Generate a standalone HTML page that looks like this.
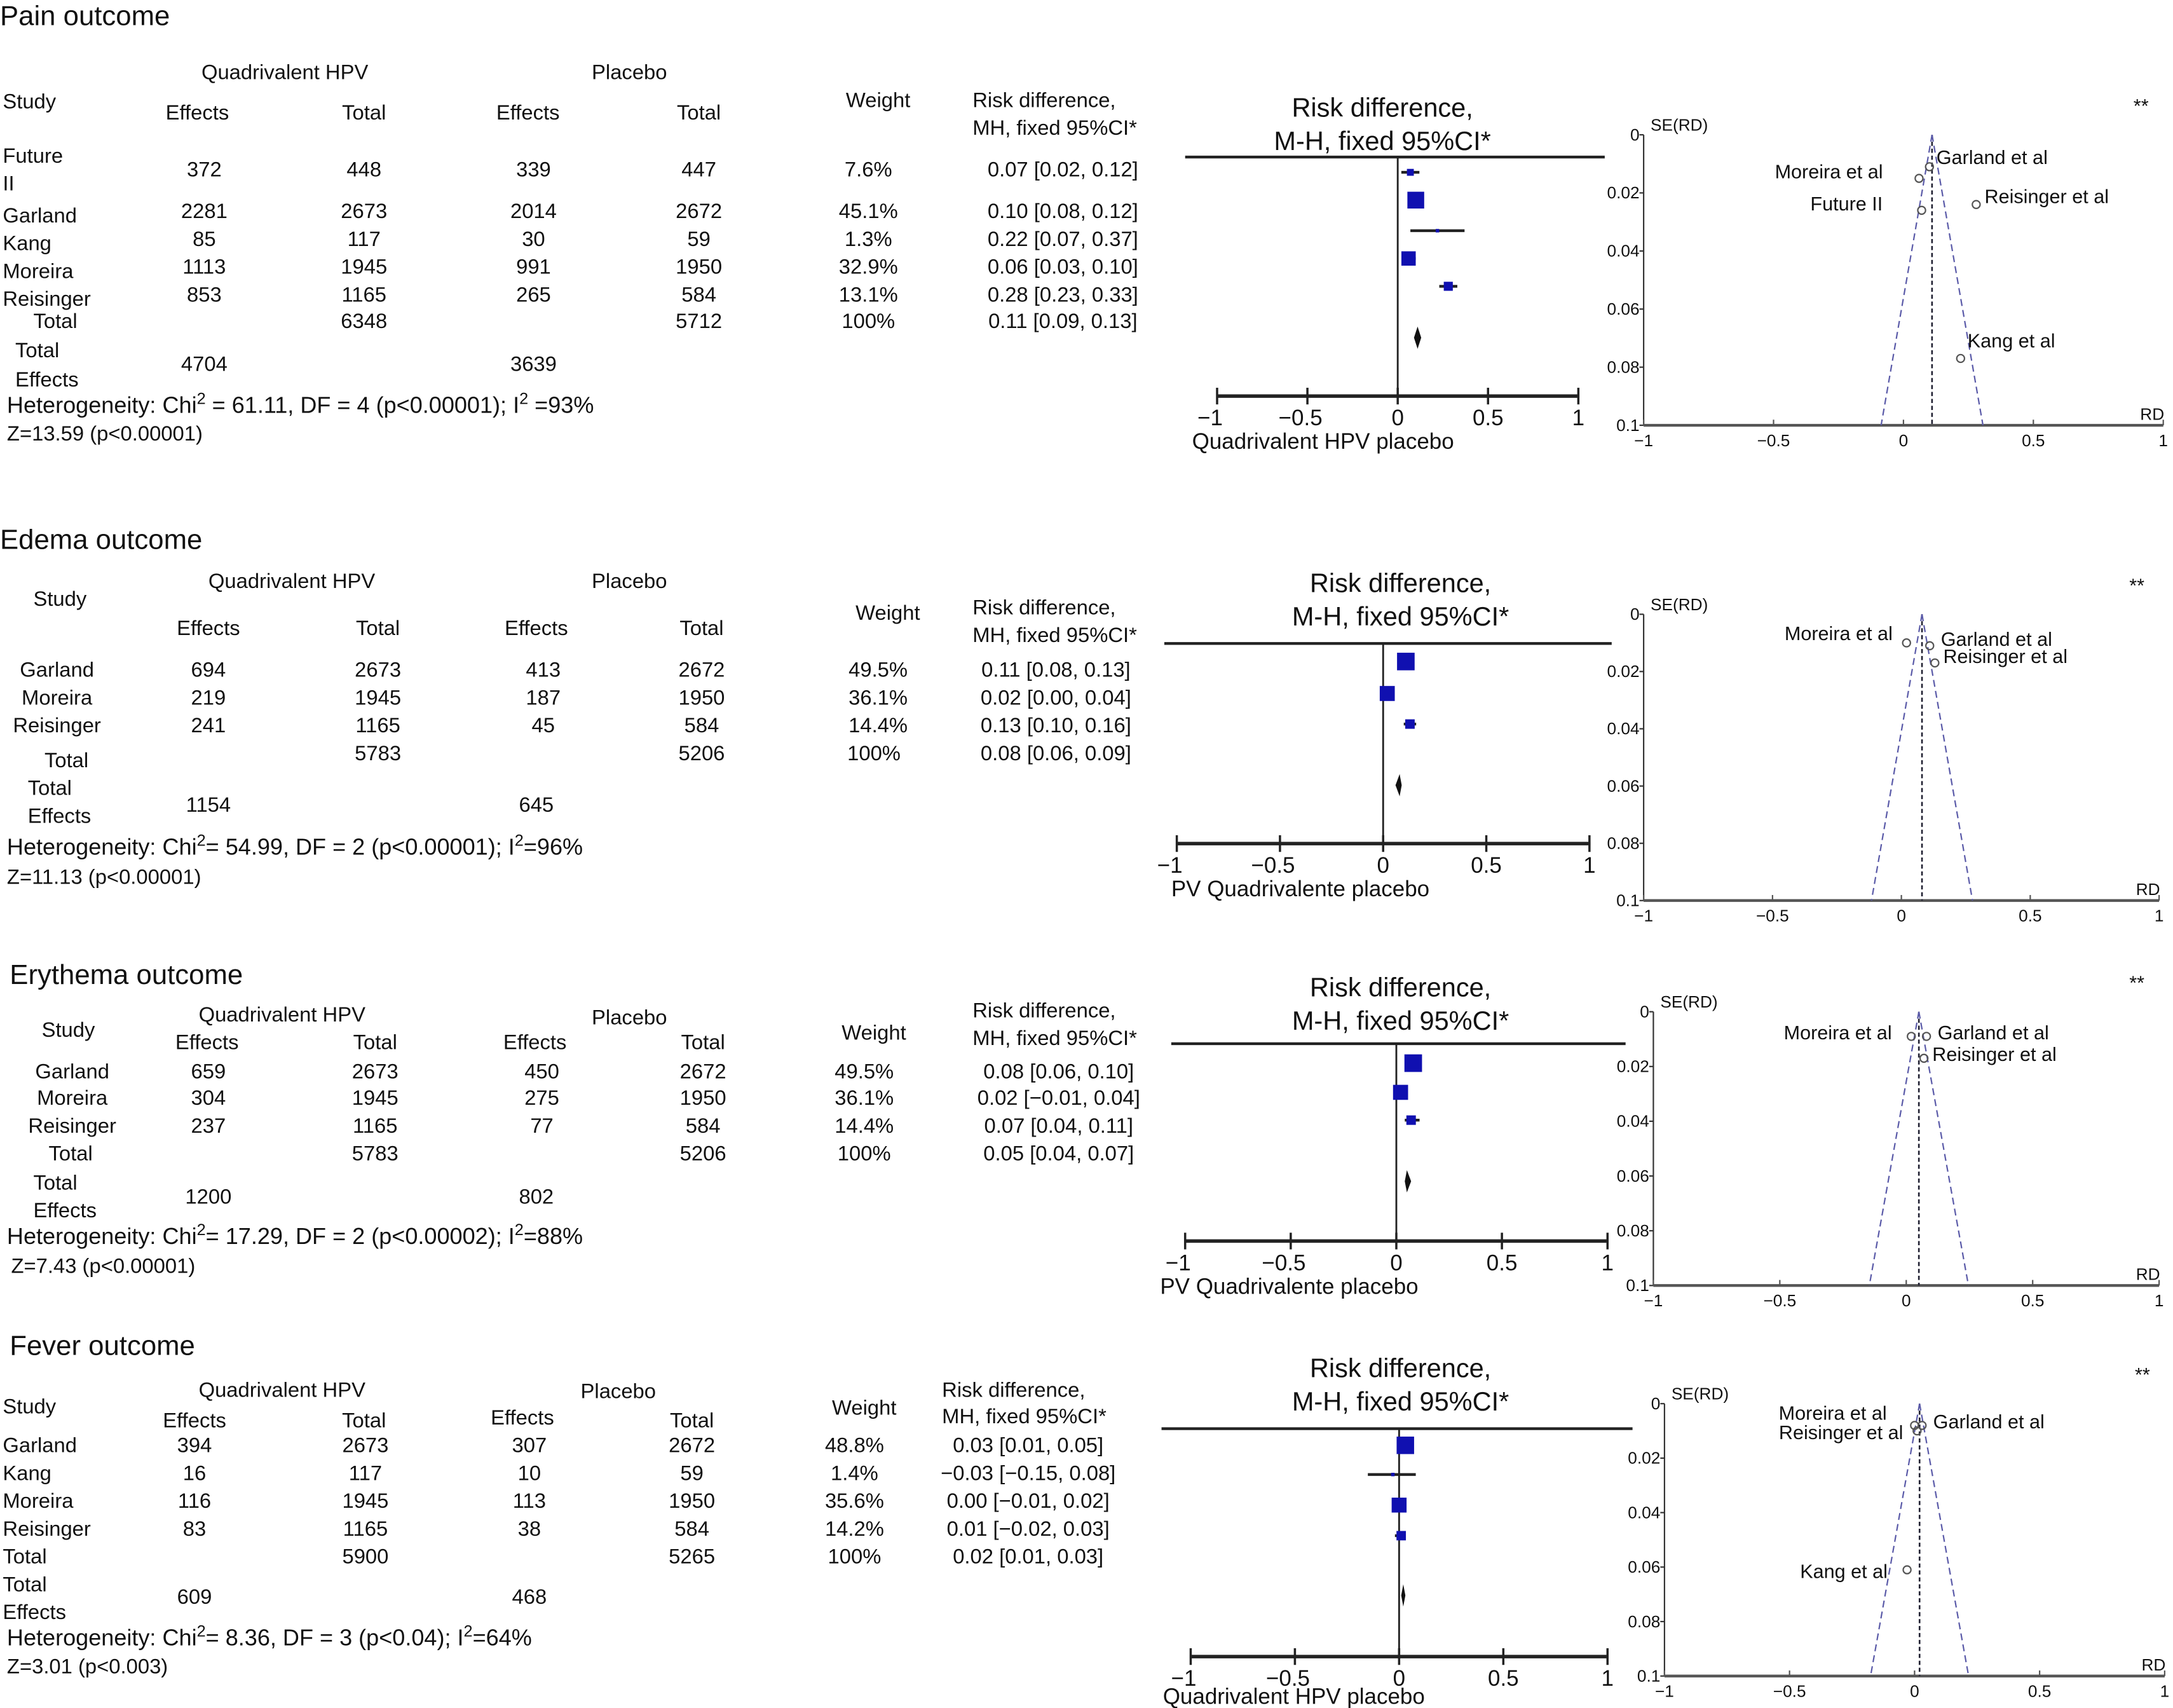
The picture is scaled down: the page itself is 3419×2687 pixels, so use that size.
<!DOCTYPE html>
<html><head><meta charset="utf-8">
<style>
html,body{margin:0;padding:0;background:#fff;}
svg{display:block;font-family:"Liberation Sans",Arial,sans-serif;}
</style></head>
<body>
<svg id="fig" width="3419" height="2687" viewBox="0 0 1564 1229" preserveAspectRatio="none" xmlns="http://www.w3.org/2000/svg"></svg>
<script>
// ---------- DATA ----------
const painStudies=["Future II","Garland","Kang","Moreira","Reisinger"];
const painRD=[0.07,0.10,0.22,0.06,0.28];
const painLo=[0.02,0.08,0.07,0.03,0.23];
const painHi=[0.12,0.12,0.37,0.10,0.33];
const painW=[7.6,45.1,1.3,32.9,13.1];
const painSE=[0.026,0.011,0.077,0.015,0.024];
const painPooled=[0.11,0.09,0.13];

const edemaStudies=["Garland","Moreira","Reisinger"];
const edemaRD=[0.11,0.02,0.13];
const edemaLo=[0.08,0.00,0.10];
const edemaHi=[0.13,0.04,0.16];
const edemaW=[49.5,36.1,14.4];
const edemaSE=[0.011,0.010,0.017];
const edemaPooled=[0.08,0.06,0.09];

const eryStudies=["Garland","Moreira","Reisinger"];
const eryRD=[0.08,0.02,0.07];
const eryLo=[0.06,-0.01,0.04];
const eryHi=[0.10,0.04,0.11];
const eryW=[49.5,36.1,14.4];
const erySE=[0.009,0.009,0.017];
const eryPooled=[0.05,0.04,0.07];

const feverStudies=["Garland","Kang","Moreira","Reisinger"];
const feverRD=[0.03,-0.03,0.00,0.01];
const feverLo=[0.01,-0.15,-0.01,-0.02];
const feverHi=[0.05,0.08,0.02,0.03];
const feverW=[48.8,1.4,35.6,14.2];
const feverSE=[0.008,0.061,0.008,0.010];
const feverPooled=[0.02,0.01,0.03];

const forestTicks=[-1,-0.5,0,0.5,1];
const forestTickLabels=["\u22121","\u22120.5","0","0.5","1"];
const funnelYTicks=[0,0.02,0.04,0.06,0.08,0.1];
const funnelYTickLabels=["0","0.02","0.04","0.06","0.08","0.1"];

// ---------- helpers ----------
const NS="http://www.w3.org/2000/svg";
const svg=document.getElementById('fig');
function mk(tag,attrs,parent){const e=document.createElementNS(NS,tag);for(const k in attrs)e.setAttribute(k,attrs[k]);(parent||svg).appendChild(e);return e;}
function txt(x,y,s,size,anchor,name,parent){
  const t=mk('text',{x:x,y:y,'font-size':size||15,'text-anchor':anchor||'start',fill:'#111'},parent);
  t.textContent=s;
  
  
  return t;
}
function supTxt(x,y,parts,size,name){
  const t=mk('text',{x:x,y:y,'font-size':size,fill:'#111'});
  
  
  parts.forEach(p=>{const s=mk('tspan',{},t);s.textContent=p[0];if(p[1]){s.setAttribute('baseline-shift','super');s.setAttribute('font-size',size*0.7);}});
}

function pain(){
  txt(0,18,"Pain outcome",20,'start','panel-title-pain');
  txt(205,57,"Quadrivalent HPV",15,'middle','group-header-hpv');
  txt(453,57,"Placebo",15,'middle','group-header-placebo');
  txt(2,78,"Study",15,'start','col-study');
  [[142,"Effects"],[262,"Total"],[380,"Effects"],[503,"Total"]].forEach(c=>txt(c[0],86,c[1],15,'middle','col-header'));
  txt(632,77,"Weight",15,'middle','col-weight');
  txt(700,77,"Risk difference,",15,'start','col-rd');
  txt(700,97,"MH, fixed 95%CI*",15,'start','col-rd');
  txt(2,117,"Future",15,'start','study-name');txt(2,137,"II",15,'start','study-name');
  const rows=[[127,"372","448","339","447","7.6%","0.07 [0.02, 0.12]"],[157,"2281","2673","2014","2672","45.1%","0.10 [0.08, 0.12]"],[177,"85","117","30","59","1.3%","0.22 [0.07, 0.37]"],[197,"1113","1945","991","1950","32.9%","0.06 [0.03, 0.10]"],[217,"853","1165","265","584","13.1%","0.28 [0.23, 0.33]"]];
  ["Garland","Kang","Moreira","Reisinger"].forEach((n,i)=>txt(2,[160,180,200,220][i],n,15,'start','study-name'));
  rows.forEach(r=>{txt(147,r[0],r[1],15,'middle','cell');txt(262,r[0],r[2],15,'middle','cell');txt(384,r[0],r[3],15,'middle','cell');txt(503,r[0],r[4],15,'middle','cell');txt(625,r[0],r[5],15,'middle','cell');txt(765,r[0],r[6],15,'middle','cell');});
  txt(24,236,"Total",15,'start','total-label');txt(262,236,"6348",15,'middle','cell');txt(503,236,"5712",15,'middle','cell');txt(625,236,"100%",15,'middle','cell');txt(765,236,"0.11 [0.09, 0.13]",15,'middle','cell');
  txt(11,257,"Total",15,'start','total-effects-label');txt(11,278,"Effects",15,'start','total-effects-label');
  txt(147,267,"4704",15,'middle','cell');txt(384,267,"3639",15,'middle','cell');
  supTxt(5,297,[["Heterogeneity: Chi"],["2",1],[" = 61.11, DF = 4 (p<0.00001); I"],["2",1],[" =93%"]],16.5,'heterogeneity');
  txt(5,317,"Z=13.59 (p<0.00001)",15,'start','z-test');
}
function edema(){
  txt(0,395,"Edema outcome",20,'start','panel-title-edema');
  txt(210,423,"Quadrivalent HPV",15,'middle','group-header-hpv');
  txt(453,423,"Placebo",15,'middle','group-header-placebo');
  txt(24,436,"Study",15,'start','col-study');
  [[150,"Effects"],[272,"Total"],[386,"Effects"],[505,"Total"]].forEach(c=>txt(c[0],457,c[1],15,'middle','col-header'));
  txt(639,446,"Weight",15,'middle','col-weight');
  txt(700,442,"Risk difference,",15,'start','col-rd');txt(700,462,"MH, fixed 95%CI*",15,'start','col-rd');
  const rows=[[487,"Garland","694","2673","413","2672","49.5%","0.11 [0.08, 0.13]"],[507,"Moreira","219","1945","187","1950","36.1%","0.02 [0.00, 0.04]"],[527,"Reisinger","241","1165","45","584","14.4%","0.13 [0.10, 0.16]"]];
  rows.forEach(r=>{txt(41,r[0],r[1],15,'middle','study-name');txt(150,r[0],r[2],15,'middle','cell');txt(272,r[0],r[3],15,'middle','cell');txt(391,r[0],r[4],15,'middle','cell');txt(505,r[0],r[5],15,'middle','cell');txt(632,r[0],r[6],15,'middle','cell');txt(760,r[0],r[7],15,'middle','cell');});
  txt(32,552,"Total",15,'start','total-label');txt(272,547,"5783",15,'middle','cell');txt(505,547,"5206",15,'middle','cell');txt(629,547,"100%",15,'middle','cell');txt(760,547,"0.08 [0.06, 0.09]",15,'middle','cell');
  txt(20,572,"Total",15,'start','total-effects-label');txt(20,592,"Effects",15,'start','total-effects-label');
  txt(150,584,"1154",15,'middle','cell');txt(386,584,"645",15,'middle','cell');
  supTxt(5,615,[["Heterogeneity: Chi"],["2",1],["= 54.99, DF = 2 (p<0.00001); I"],["2",1],["=96%"]],16.5,'heterogeneity');
  txt(5,636,"Z=11.13 (p<0.00001)",15,'start','z-test');
}
function ery(){
  txt(7,708,"Erythema outcome",20,'start','panel-title-erythema');
  txt(203,735,"Quadrivalent HPV",15,'middle','group-header-hpv');
  txt(453,737,"Placebo",15,'middle','group-header-placebo');
  txt(30,746,"Study",15,'start','col-study');
  [[149,"Effects"],[270,"Total"],[385,"Effects"],[506,"Total"]].forEach(c=>txt(c[0],755,c[1],15,'middle','col-header'));
  txt(629,748,"Weight",15,'middle','col-weight');
  txt(700,732,"Risk difference,",15,'start','col-rd');txt(700,752,"MH, fixed 95%CI*",15,'start','col-rd');
  const rows=[[776,"Garland","659","2673","450","2672","49.5%","0.08 [0.06, 0.10]"],[795,"Moreira","304","1945","275","1950","36.1%","0.02 [\u22120.01, 0.04]"],[815,"Reisinger","237","1165","77","584","14.4%","0.07 [0.04, 0.11]"]];
  rows.forEach(r=>{txt(52,r[0],r[1],15,'middle','study-name');txt(150,r[0],r[2],15,'middle','cell');txt(270,r[0],r[3],15,'middle','cell');txt(390,r[0],r[4],15,'middle','cell');txt(506,r[0],r[5],15,'middle','cell');txt(622,r[0],r[6],15,'middle','cell');txt(762,r[0],r[7],15,'middle','cell');});
  txt(35,835,"Total",15,'start','total-label');txt(270,835,"5783",15,'middle','cell');txt(506,835,"5206",15,'middle','cell');txt(622,835,"100%",15,'middle','cell');txt(762,835,"0.05 [0.04, 0.07]",15,'middle','cell');
  txt(24,856,"Total",15,'start','total-effects-label');txt(24,876,"Effects",15,'start','total-effects-label');
  txt(150,866,"1200",15,'middle','cell');txt(386,866,"802",15,'middle','cell');
  supTxt(5,895,[["Heterogeneity: Chi"],["2",1],["= 17.29, DF = 2 (p<0.00002); I"],["2",1],["=88%"]],16.5,'heterogeneity');
  txt(8,916,"Z=7.43 (p<0.00001)",15,'start','z-test');
}
function fever(){
  txt(7,975,"Fever outcome",20,'start','panel-title-fever');
  txt(203,1005,"Quadrivalent HPV",15,'middle','group-header-hpv');
  txt(445,1006,"Placebo",15,'middle','group-header-placebo');
  txt(2,1017,"Study",15,'start','col-study');
  [[140,1027,"Effects"],[262,1027,"Total"],[376,1025,"Effects"],[498,1027,"Total"]].forEach(c=>txt(c[0],c[1],c[2],15,'middle','col-header'));
  txt(622,1018,"Weight",15,'middle','col-weight');
  txt(678,1005,"Risk difference,",15,'start','col-rd');txt(678,1024,"MH, fixed 95%CI*",15,'start','col-rd');
  const rows=[[1045,"Garland","394","2673","307","2672","48.8%","0.03 [0.01, 0.05]"],[1065,"Kang","16","117","10","59","1.4%","\u22120.03 [\u22120.15, 0.08]"],[1085,"Moreira","116","1945","113","1950","35.6%","0.00 [\u22120.01, 0.02]"],[1105,"Reisinger","83","1165","38","584","14.2%","0.01 [\u22120.02, 0.03]"]];
  rows.forEach(r=>{txt(2,r[0],r[1],15,'start','study-name');txt(140,r[0],r[2],15,'middle','cell');txt(263,r[0],r[3],15,'middle','cell');txt(381,r[0],r[4],15,'middle','cell');txt(498,r[0],r[5],15,'middle','cell');txt(615,r[0],r[6],15,'middle','cell');txt(740,r[0],r[7],15,'middle','cell');});
  txt(2,1125,"Total",15,'start','total-label');txt(263,1125,"5900",15,'middle','cell');txt(498,1125,"5265",15,'middle','cell');txt(615,1125,"100%",15,'middle','cell');txt(740,1125,"0.02 [0.01, 0.03]",15,'middle','cell');
  txt(2,1145,"Total",15,'start','total-effects-label');txt(2,1165,"Effects",15,'start','total-effects-label');
  txt(140,1154,"609",15,'middle','cell');txt(381,1154,"468",15,'middle','cell');
  supTxt(5,1184,[["Heterogeneity: Chi"],["2",1],["= 8.36, DF = 3 (p<0.04); I"],["2",1],["=64%"]],16.5,'heterogeneity');
  txt(5,1204,"Z=3.01 (p<0.003)",15,'start','z-test');
}

function forest(L,rd,lo,hi,w,pooled,name){
  const g=mk('g',{});
  
  
  const X=v=>L.ax0+(v+1)/2*(L.ax1-L.ax0);
  txt(L.tc,L.ty,"Risk difference,",19,'middle','forest-title',g);
  txt(L.tc,L.ty+24,"M-H, fixed 95%CI*",19,'middle','forest-title',g);
  const hl=mk('line',{x1:L.h0,x2:L.h1,y1:L.hy,y2:L.hy,stroke:'#222','stroke-width':2},g);
  
  const zl=mk('line',{x1:X(0),x2:X(0),y1:L.hy,y2:L.ay,stroke:'#222','stroke-width':1.3},g);
  
  const ax=mk('line',{x1:X(-1),x2:X(1),y1:L.ay,y2:L.ay,stroke:'#222','stroke-width':2.5},g);
  
  forestTicks.forEach((t,i)=>{
    const tk=mk('line',{x1:X(t),x2:X(t),y1:L.ay-6,y2:L.ay+6,stroke:'#222','stroke-width':1.6},g);
    
    txt(X(t)+(t<0?-5:0),L.ay+21,forestTickLabels[i],16,'middle','x-tick-label',g);
  });
  txt(L.xl,L.ay+(L.xo||38),L.xt,16,'start','x-axis-title',g);
  rd.forEach((v,i)=>{
    const y=L.rows[i];
    const ci=mk('line',{x1:X(lo[i]),x2:X(hi[i]),y1:y,y2:y,stroke:'#222','stroke-width':2},g);
    
    const s=Math.max(2.5,1.8*Math.sqrt(w[i]));
    const sq=mk('rect',{x:X(v)-s/2,y:y-s/2,width:s,height:s,fill:'#1010b0'},g);
    
  });
  const dy=L.dy;
  const d=mk('polygon',{points:`${X(pooled[1])},${dy} ${X(pooled[0])},${dy-8} ${X(pooled[2])},${dy} ${X(pooled[0])},${dy+8}`,fill:'#111'},g);
  
}

function funnel(F,studies,rd,se,pooled,labels,name){
  const g=mk('g',{});
  
  
  const X=v=>F.x0+(v+1)/2*(F.x1-F.x0);
  const Y=v=>F.y0+v/0.1*(F.y1-F.y0);
  const ya=mk('line',{x1:F.x0,x2:F.x0,y1:F.y0,y2:F.y1,stroke:'#333','stroke-width':1},g);
  
  const xa=mk('line',{x1:F.x0,x2:F.x1,y1:F.y1,y2:F.y1,stroke:'#555','stroke-width':2},g);
  
  funnelYTicks.forEach((t,i)=>{
    const tk=mk('line',{x1:F.x0-3,x2:F.x0,y1:Y(t),y2:Y(t),stroke:'#333'},g);
    
    txt(F.x0-3,Y(t)+4,funnelYTickLabels[i],12,'end','y-tick-label',g);
  });
  forestTicks.forEach((t,i)=>{
    const tk=mk('line',{x1:X(t),x2:X(t),y1:F.y1-4,y2:F.y1,stroke:'#555'},g);
    
    txt(X(t),F.y1+15,forestTickLabels[i],12,'middle','x-tick-label',g);
  });
  txt(F.x0+5,F.y0-3,"SE(RD)",12,'start','y-axis-title',g);
  txt(F.x1-8,F.y1-4,"RD",12,'middle','x-axis-title',g);
  txt(F.x1-16,F.y0-16,"**",14,'middle','annotation',g);
  const p=pooled[0];
  const c=mk('line',{x1:X(p),x2:X(p),y1:F.y0,y2:F.y1,stroke:'#223',"stroke-dasharray":'3,2','stroke-width':1.2},g);
  
  [-1,1].forEach(sg=>{
    const l=mk('line',{x1:X(p),y1:F.y0,x2:X(p+sg*1.96*0.1),y2:F.y1,stroke:'#5a5aa8','stroke-dasharray':'5,3','stroke-width':1},g);
    
  });
  rd.forEach((v,i)=>{
    const pt=mk('circle',{cx:X(v),cy:Y(se[i]),r:2.8,fill:'none',stroke:'#555','stroke-width':1},g);
    
    const lb=labels[i];
    txt(X(v)+lb[0],Y(se[i])+lb[1],studies[i]==="Future II"?"Future II":studies[i]+" et al",14,lb[0]<0?'end':'start','study-label',g);
  });
}

pain();edema();ery();fever();

forest({ax0:876,ax1:1136,tc:995,ty:84,h0:853,h1:1155,hy:113,ay:285,xl:858,xt:"Quadrivalent HPV placebo",rows:[124,144,166,186,206],dy:243},painRD,painLo,painHi,painW,painPooled,'pain');
forest({ax0:847,ax1:1144,tc:1008,ty:426,h0:838,h1:1160,hy:463,ay:607,xl:843,xt:"PV Quadrivalente placebo",rows:[476,499,521],dy:565},edemaRD,edemaLo,edemaHi,edemaW,edemaPooled,'edema');
forest({ax0:853,ax1:1157,tc:1008,ty:717,h0:843,h1:1170,hy:751,ay:893,xl:835,xt:"PV Quadrivalente placebo",rows:[765,786,806],dy:850},eryRD,eryLo,eryHi,eryW,eryPooled,'erythema');
forest({ax0:857,ax1:1157,tc:1008,ty:991,h0:836,h1:1175,hy:1028,ay:1192,xl:837,xo:34,xt:"Quadrivalent HPV placebo",rows:[1040,1061,1083,1105],dy:1148},feverRD,feverLo,feverHi,feverW,feverPooled,'fever');

funnel({x0:1183,x1:1557,y0:97,y1:306},["Future II","Garland","Kang","Moreira","Reisinger"],painRD,painSE,painPooled,[[-28,0],[5,-2],[5,-8],[-26,0],[6,-1]],'pain');
funnel({x0:1183,x1:1554,y0:442,y1:648},edemaStudies,edemaRD,edemaSE,edemaPooled,[[8,0],[-10,-2],[6,0]],'edema');
funnel({x0:1190,x1:1554,y0:728,y1:925},eryStudies,eryRD,erySE,eryPooled,[[8,2],[-14,2],[6,2]],'erythema');
funnel({x0:1198,x1:1558,y0:1010,y1:1206},feverStudies,feverRD,feverSE,feverPooled,[[8,2],[-14,6],[-20,-4],[-10,6]],'fever');
</script>
</body></html>
